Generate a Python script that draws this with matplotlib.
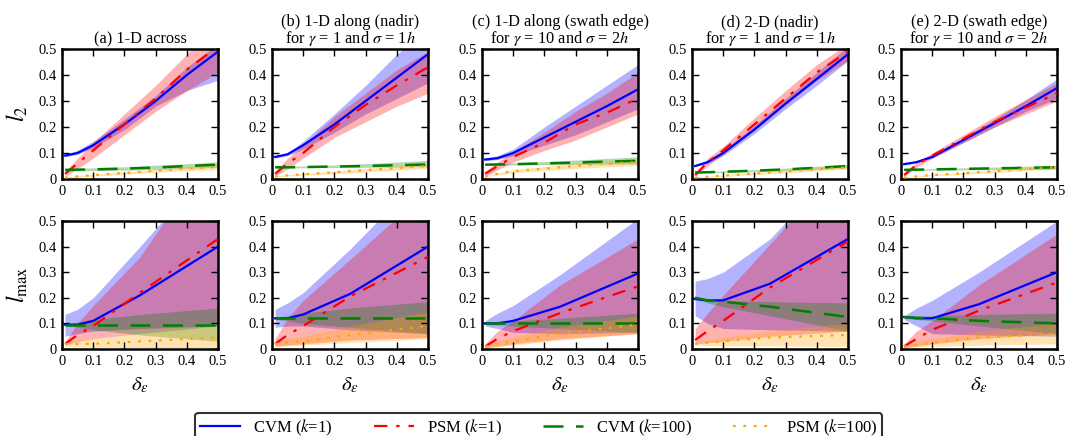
import matplotlib
matplotlib.use("Agg")
import matplotlib.pyplot as plt
from matplotlib.lines import Line2D

plt.rcParams['font.family'] = ['Liberation Serif', 'DejaVu Serif']
plt.rcParams['mathtext.fontset'] = 'stix'

# ---------------- data ----------------
X_L2 = [0.01, 0.05, 0.1, 0.2, 0.3, 0.4, 0.5]
X_LMAX = [0.01, 0.05, 0.1, 0.25, 0.5]

TITLES = ["(a) 1-D across",
          "(b) 1-D along (nadir)\nfor $\\gamma$ = 1 and $\\sigma$ = 1$h$",
          "(c) 1-D along (swath edge)\nfor $\\gamma$ = 10 and $\\sigma$ = 2$h$",
          "(d) 2-D (nadir)\nfor $\\gamma$ = 1 and $\\sigma$ = 1$h$",
          "(e) 2-D (swath edge)\nfor $\\gamma$ = 10 and $\\sigma$ = 2$h$"]
LABELS = ["CVM ($k$=1)", "PSM ($k$=1)", "CVM ($k$=100)", "PSM ($k$=100)"]
TICKS = [0, 0.1, 0.2, 0.3, 0.4, 0.5]
TICK_LABELS = ["0", "0.1", "0.2", "0.3", "0.4", "0.5"]

# each entry: (mean, low, high)
# ---- l2 row ----
A_L2_CVM1 = ([0.09, 0.10, 0.13, 0.21, 0.30, 0.40, 0.49], [0.085, 0.095, 0.12, 0.19, 0.28, 0.34, 0.38], [0.095, 0.11, 0.145, 0.23, 0.32, 0.43, 0.52])
A_L2_PSM1 = ([0.02, 0.06, 0.11, 0.21, 0.31, 0.42, 0.51], [0.01, 0.04, 0.08, 0.17, 0.26, 0.34, 0.41], [0.03, 0.08, 0.14, 0.25, 0.36, 0.48, 0.60])
A_L2_CVM100 = ([0.035, 0.036, 0.037, 0.040, 0.044, 0.05, 0.055], [0.03, 0.031, 0.032, 0.034, 0.037, 0.041, 0.045], [0.04, 0.041, 0.043, 0.047, 0.053, 0.059, 0.066])
A_L2_PSM100 = ([0.005, 0.01, 0.015, 0.023, 0.032, 0.04, 0.046], [0.003, 0.007, 0.011, 0.018, 0.026, 0.032, 0.036], [0.007, 0.013, 0.019, 0.028, 0.038, 0.047, 0.056])

B_L2_CVM1 = ([0.085, 0.095, 0.13, 0.21, 0.30, 0.39, 0.48], [0.08, 0.09, 0.115, 0.18, 0.25, 0.31, 0.37], [0.09, 0.10, 0.145, 0.25, 0.36, 0.48, 0.58])
B_L2_PSM1 = ([0.02, 0.06, 0.10, 0.20, 0.285, 0.36, 0.43], [0.01, 0.04, 0.08, 0.16, 0.22, 0.28, 0.33], [0.03, 0.08, 0.13, 0.24, 0.33, 0.42, 0.49])
B_L2_CVM100 = ([0.045, 0.045, 0.046, 0.048, 0.05, 0.053, 0.056], [0.043, 0.043, 0.043, 0.044, 0.045, 0.046, 0.047], [0.047, 0.048, 0.05, 0.054, 0.059, 0.065, 0.072])
B_L2_PSM100 = ([0.01, 0.014, 0.018, 0.026, 0.034, 0.042, 0.05], [0.008, 0.011, 0.014, 0.02, 0.027, 0.034, 0.04], [0.012, 0.017, 0.022, 0.031, 0.041, 0.051, 0.06])

C_L2_CVM1 = ([0.075, 0.08, 0.10, 0.16, 0.22, 0.28, 0.345], [0.07, 0.075, 0.09, 0.13, 0.17, 0.22, 0.27], [0.08, 0.09, 0.115, 0.20, 0.28, 0.36, 0.44])
C_L2_PSM1 = ([0.02, 0.05, 0.085, 0.14, 0.21, 0.255, 0.31], [0.01, 0.035, 0.065, 0.11, 0.15, 0.20, 0.25], [0.03, 0.065, 0.105, 0.18, 0.26, 0.33, 0.41])
C_L2_CVM100 = ([0.055, 0.056, 0.057, 0.06, 0.063, 0.067, 0.07], [0.053, 0.053, 0.054, 0.055, 0.056, 0.057, 0.058], [0.057, 0.059, 0.062, 0.067, 0.073, 0.079, 0.085])
C_L2_PSM100 = ([0.01, 0.02, 0.03, 0.04, 0.05, 0.06, 0.065], [0.008, 0.016, 0.024, 0.032, 0.04, 0.047, 0.052], [0.012, 0.024, 0.036, 0.048, 0.06, 0.07, 0.077])

D_L2_CVM1 = ([0.05, 0.065, 0.10, 0.19, 0.29, 0.385, 0.48], [0.048, 0.06, 0.09, 0.175, 0.27, 0.36, 0.455], [0.052, 0.07, 0.11, 0.205, 0.31, 0.41, 0.51])
D_L2_PSM1 = ([0.015, 0.065, 0.11, 0.21, 0.31, 0.41, 0.49], [0.01, 0.05, 0.095, 0.19, 0.285, 0.38, 0.455], [0.02, 0.08, 0.125, 0.235, 0.34, 0.44, 0.52])
D_L2_CVM100 = ([0.025, 0.026, 0.028, 0.032, 0.037, 0.043, 0.05], [0.023, 0.024, 0.025, 0.028, 0.032, 0.037, 0.043], [0.027, 0.029, 0.031, 0.036, 0.042, 0.049, 0.056])
D_L2_PSM100 = ([0.005, 0.009, 0.013, 0.021, 0.029, 0.037, 0.045], [0.004, 0.007, 0.01, 0.017, 0.024, 0.031, 0.038], [0.006, 0.011, 0.016, 0.025, 0.034, 0.043, 0.052])

E_L2_CVM1 = ([0.057, 0.065, 0.085, 0.15, 0.215, 0.28, 0.35], [0.055, 0.062, 0.08, 0.14, 0.20, 0.26, 0.31], [0.06, 0.068, 0.09, 0.16, 0.23, 0.305, 0.385])
E_L2_PSM1 = ([0.015, 0.055, 0.09, 0.155, 0.22, 0.275, 0.33], [0.01, 0.045, 0.08, 0.14, 0.20, 0.25, 0.30], [0.02, 0.065, 0.10, 0.17, 0.24, 0.305, 0.37])
E_L2_CVM100 = ([0.035, 0.036, 0.037, 0.039, 0.041, 0.043, 0.045], [0.033, 0.033, 0.034, 0.035, 0.036, 0.037, 0.038], [0.037, 0.038, 0.04, 0.043, 0.046, 0.049, 0.052])
E_L2_PSM100 = ([0.005, 0.01, 0.015, 0.022, 0.03, 0.038, 0.045], [0.004, 0.008, 0.012, 0.018, 0.025, 0.032, 0.038], [0.006, 0.012, 0.018, 0.026, 0.035, 0.044, 0.052])

# ---- lmax row ----
A_LM_CVM1 = ([0.095, 0.095, 0.11, 0.21, 0.40], [0.05, 0.06, 0.07, 0.08, 0.09], [0.135, 0.155, 0.20, 0.40, 0.75])
A_LM_PSM1 = ([0.02, 0.055, 0.09, 0.22, 0.43], [0.015, 0.03, 0.04, 0.06, 0.09], [0.03, 0.10, 0.17, 0.36, 0.80])
A_LM_CVM100 = ([0.095, 0.095, 0.095, 0.095, 0.095], [0.09, 0.085, 0.075, 0.055, 0.03], [0.10, 0.105, 0.115, 0.135, 0.16])
A_LM_PSM100 = ([0.02, 0.02, 0.02, 0.03, 0.045], [0.01, 0.008, 0.007, 0.006, 0.005], [0.03, 0.035, 0.04, 0.06, 0.09])

B_LM_CVM1 = ([0.12, 0.12, 0.135, 0.215, 0.40], [0.085, 0.09, 0.09, 0.075, 0.06], [0.155, 0.18, 0.22, 0.39, 0.70])
B_LM_PSM1 = ([0.02, 0.055, 0.09, 0.205, 0.36], [0.01, 0.015, 0.02, 0.035, 0.045], [0.04, 0.12, 0.19, 0.35, 0.62])
B_LM_CVM100 = ([0.12, 0.12, 0.12, 0.12, 0.12], [0.115, 0.11, 0.10, 0.085, 0.06], [0.125, 0.13, 0.14, 0.16, 0.185])
B_LM_PSM100 = ([0.02, 0.025, 0.03, 0.055, 0.09], [0.01, 0.012, 0.015, 0.025, 0.04], [0.03, 0.04, 0.05, 0.09, 0.145])

C_LM_CVM1 = ([0.10, 0.10, 0.11, 0.165, 0.295], [0.09, 0.08, 0.065, 0.06, 0.065], [0.11, 0.14, 0.17, 0.29, 0.51])
C_LM_PSM1 = ([0.01, 0.04, 0.07, 0.14, 0.245], [0.005, 0.01, 0.02, 0.04, 0.06], [0.02, 0.07, 0.11, 0.25, 0.43])
C_LM_CVM100 = ([0.10, 0.10, 0.10, 0.10, 0.10], [0.095, 0.093, 0.09, 0.08, 0.065], [0.105, 0.108, 0.11, 0.12, 0.14])
C_LM_PSM100 = ([0.01, 0.02, 0.03, 0.06, 0.095], [0.005, 0.01, 0.015, 0.035, 0.06], [0.015, 0.03, 0.045, 0.085, 0.13])

D_LM_CVM1 = ([0.195, 0.19, 0.19, 0.255, 0.43], [0.13, 0.10, 0.08, 0.075, 0.07], [0.265, 0.275, 0.30, 0.43, 0.75])
D_LM_PSM1 = ([0.035, 0.07, 0.11, 0.24, 0.42], [0.02, 0.025, 0.03, 0.05, 0.07], [0.08, 0.14, 0.21, 0.41, 0.75])
D_LM_CVM100 = ([0.20, 0.19, 0.185, 0.165, 0.125], [0.195, 0.18, 0.165, 0.13, 0.07], [0.205, 0.195, 0.19, 0.185, 0.18])
D_LM_PSM100 = ([0.02, 0.025, 0.03, 0.045, 0.055], [0.015, 0.013, 0.012, 0.012, 0.01], [0.025, 0.035, 0.045, 0.07, 0.10])

E_LM_CVM1 = ([0.125, 0.12, 0.12, 0.175, 0.30], [0.115, 0.09, 0.06, 0.055, 0.05], [0.13, 0.16, 0.19, 0.30, 0.50])
E_LM_PSM1 = ([0.01, 0.04, 0.075, 0.15, 0.26], [0.005, 0.012, 0.02, 0.04, 0.06], [0.02, 0.07, 0.11, 0.25, 0.45])
E_LM_CVM100 = ([0.125, 0.122, 0.12, 0.11, 0.10], [0.12, 0.115, 0.11, 0.09, 0.06], [0.13, 0.128, 0.13, 0.135, 0.14])
E_LM_PSM100 = ([0.01, 0.015, 0.025, 0.045, 0.06], [0.005, 0.008, 0.01, 0.015, 0.02], [0.015, 0.025, 0.04, 0.07, 0.10])

L2_ROW = [
    [A_L2_CVM1, A_L2_PSM1, A_L2_CVM100, A_L2_PSM100],
    [B_L2_CVM1, B_L2_PSM1, B_L2_CVM100, B_L2_PSM100],
    [C_L2_CVM1, C_L2_PSM1, C_L2_CVM100, C_L2_PSM100],
    [D_L2_CVM1, D_L2_PSM1, D_L2_CVM100, D_L2_PSM100],
    [E_L2_CVM1, E_L2_PSM1, E_L2_CVM100, E_L2_PSM100],
]
LM_ROW = [
    [A_LM_CVM1, A_LM_PSM1, A_LM_CVM100, A_LM_PSM100],
    [B_LM_CVM1, B_LM_PSM1, B_LM_CVM100, B_LM_PSM100],
    [C_LM_CVM1, C_LM_PSM1, C_LM_CVM100, C_LM_PSM100],
    [D_LM_CVM1, D_LM_PSM1, D_LM_CVM100, D_LM_PSM100],
    [E_LM_CVM1, E_LM_PSM1, E_LM_CVM100, E_LM_PSM100],
]

# ---------------- styles ----------------
COLORS = ['#0000ff', '#ff0000', '#007f00', '#ffa500']
LSTYLES = [dict(linestyle='-'),
           dict(linestyle=(0, (6, 4, 1.5, 4))),
           dict(linestyle=(0, (8, 5))),
           dict(linestyle=(0, (1.2, 3.5)))]
LWS = [1.6, 1.6, 1.8, 1.6]

fig = plt.figure(figsize=(10.65, 4.36), dpi=100)
lefts = [62, 272, 482, 692, 901]
W = 156
rows = [(49, 179), (221, 349)]

def draw(ax, x, series):
    for i, (m, lo, hi) in enumerate(series):
        ax.fill_between(x, lo, hi, color=COLORS[i], alpha=0.3, linewidth=0, zorder=1 + i * 0.1)
    for i, (m, lo, hi) in enumerate(series):
        ax.plot(x, m, color=COLORS[i], lw=LWS[i], zorder=5, **LSTYLES[i])

for r, (top, bot) in enumerate(rows):
    for c in range(5):
        ax = fig.add_axes([lefts[c] / 1065, 1 - bot / 436, W / 1065, (bot - top) / 436])
        if r == 0:
            draw(ax, X_L2, L2_ROW[c])
            ax.set_title(TITLES[c], fontsize=11.8, pad=4, linespacing=0.95)
        else:
            draw(ax, X_LMAX, LM_ROW[c])
            ax.set_xlabel(r'$\delta_\varepsilon$', fontsize=15, labelpad=6)
        ax.set_xlim(0, 0.5)
        ax.set_ylim(0, 0.5)
        ax.set_xticks(TICKS)
        ax.set_xticklabels(TICK_LABELS)
        ax.set_yticks(TICKS)
        ax.set_yticklabels(TICK_LABELS)
        ax.tick_params(direction='in', top=True, right=True, length=5, width=1,
                       labelsize=10.5, pad=4)
        for s in ax.spines.values():
            s.set_linewidth(1.8)
        if c == 0:
            ax.set_ylabel(r'$l_2$' if r == 0 else r'$l_{\max}$', fontsize=17, labelpad=6)

handles = [Line2D([], [], color=COLORS[i], lw=LWS[i], **LSTYLES[i]) for i in range(4)]
leg = fig.legend(handles, LABELS, loc='lower center', bbox_to_anchor=(0.506, -0.035),
                 ncol=4, fontsize=12, frameon=True, fancybox=True, edgecolor='black',
                 handlelength=2.4, columnspacing=2.5, handletextpad=0.75, borderpad=0.3)
leg.get_frame().set_linewidth(1.5)

fig.savefig('out.png', dpi=100)
